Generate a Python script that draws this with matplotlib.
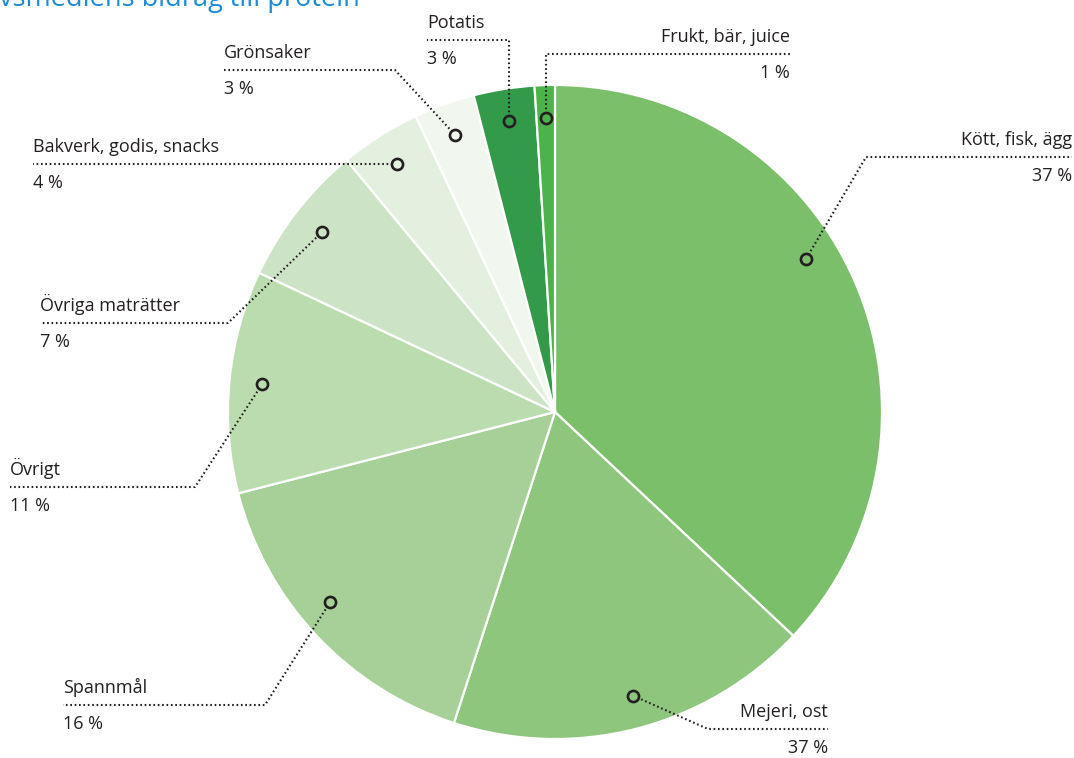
import numpy as np
import matplotlib
matplotlib.use("Agg")
import matplotlib.pyplot as plt

plt.rcParams['font.family'] = ['Open Sans', 'DejaVu Sans']

# data (clockwise from 12 o'clock)
categories = ["Kött, fisk, ägg", "Mejeri, ost", "Spannmål", "Övrigt",
              "Övriga maträtter", "Bakverk, godis, snacks", "Grönsaker",
              "Potatis", "Frukt, bär, juice"]
shares = [37, 18, 16, 11, 7, 4, 3, 3, 1]
# percent labels as printed in the original (Mejeri says 37 %)
pct_labels = ["37 %", "37 %", "16 %", "11 %", "7 %", "4 %", "3 %", "3 %", "1 %"]
colors = ["#7bbf6b", "#8fc67e", "#a7d098", "#bbdcaf", "#cde3c5",
          "#e4f0df", "#f1f7ef", "#339a4a", "#4cb24a"]

title = "Livsmedlens bidrag till protein"

W, H = 1074, 758
fig = plt.figure(figsize=(W / 100, H / 100), dpi=100, facecolor='w')
ax = fig.add_axes([0, 0, 1, 1])


def Y(y):
    # image row -> data y
    return H - y


cx, cy, R = 555, Y(412), 327

wedges, _ = ax.pie(shares, colors=colors, startangle=90, counterclock=False,
                   center=(cx, cy), radius=R, frame=True,
                   wedgeprops=dict(edgecolor='white', linewidth=1.6))
ax.set_xlim(0, W)
ax.set_ylim(0, H)
ax.set_aspect('equal')
ax.axis('off')

# leader layout: (angle shift, elbow x, elbow y, line end x, side)
# None for elbow x / y means "same as the marker"
layout = [
    (8, 866, 157, 1072, 'right'),
    (1, 708, 729, 828, 'right'),
    (-3, 265, 705, 63, 'left'),
    (0, 195, 487, 10, 'left'),
    (0, 228, 323, 40, 'left'),
    (0, None, None, 33, 'left'),
    (0, 395, 70, 224, 'left'),
    (0, None, 40, 427, 'left'),
    (0, None, 54, 790, 'right'),
]

dark = "#231f20"
for w, lab, pct, (shift, ex, ey, endx, side) in zip(wedges, categories, pct_labels, layout):
    ang = np.deg2rad((w.theta1 + w.theta2) / 2 + shift)
    mx = cx + 0.9 * R * np.cos(ang)
    my = cy + 0.9 * R * np.sin(ang)
    ex = mx if ex is None else ex
    ey = my if ey is None else Y(ey)
    ax.plot([mx, ex, endx], [my, ey, ey], color=dark, lw=1.5,
            linestyle=(0, (0.8, 1.3)), zorder=4)
    ax.plot(mx, my, 'o', ms=8, mfc=w.get_facecolor(), mec=dark, mew=1.9, zorder=5)
    ha = 'left' if side == 'left' else 'right'
    ax.text(endx, ey + 12, lab, ha=ha, va='baseline', fontsize=13, color=dark)
    ax.text(endx, ey - 24, pct, ha=ha, va='baseline', fontsize=13, color=dark)

# title, cut off at the top edge like the original
fig.text(360 / W, 1 - 6 / H, title, ha='right', va='baseline',
         fontsize=19.5, color="#1a8cd8")

fig.savefig("out.png", dpi=100)
